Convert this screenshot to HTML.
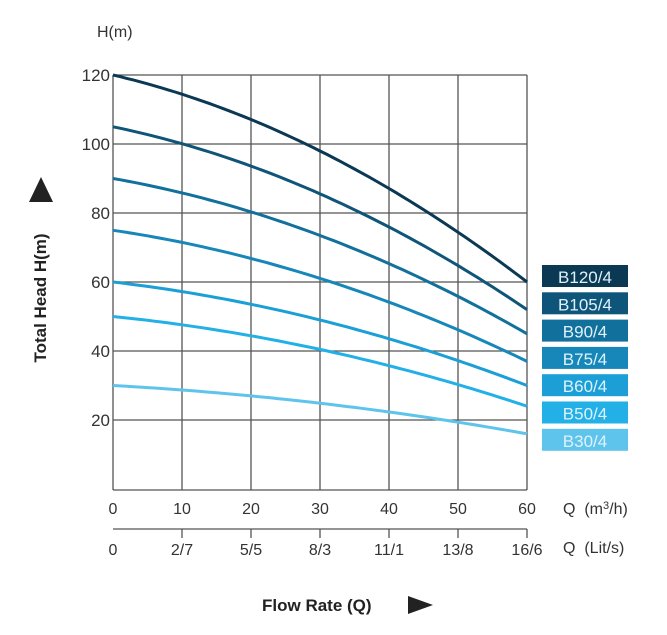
<!DOCTYPE html>
<html><head><meta charset="utf-8"><style>
body{margin:0;background:#fff;}
svg text{font-family:"Liberation Sans",Arial,sans-serif;}
</style></head><body>
<svg id="s" width="667" height="630" viewBox="0 0 667 630" xmlns="http://www.w3.org/2000/svg">
<rect width="667" height="630" fill="#fff"/>
<g stroke="#555" stroke-width="1.3" fill="none">
<line x1="113" y1="75" x2="113" y2="490"/>
<line x1="182" y1="75" x2="182" y2="490"/>
<line x1="251" y1="75" x2="251" y2="490"/>
<line x1="320" y1="75" x2="320" y2="490"/>
<line x1="389" y1="75" x2="389" y2="490"/>
<line x1="458" y1="75" x2="458" y2="490"/>
<line x1="527" y1="75" x2="527" y2="490"/>
<line x1="113" y1="75" x2="527" y2="75"/>
<line x1="113" y1="144" x2="527" y2="144"/>
<line x1="113" y1="213" x2="527" y2="213"/>
<line x1="113" y1="282" x2="527" y2="282"/>
<line x1="113" y1="351" x2="527" y2="351"/>
<line x1="113" y1="420" x2="527" y2="420"/>
<line x1="113" y1="490" x2="527" y2="490"/>
<line x1="113" y1="529" x2="527" y2="529"/>
<line x1="182" y1="529" x2="182" y2="538"/>
<line x1="251" y1="529" x2="251" y2="538"/>
<line x1="320" y1="529" x2="320" y2="538"/>
<line x1="389" y1="529" x2="389" y2="538"/>
<line x1="458" y1="529" x2="458" y2="538"/>
<line x1="527" y1="529" x2="527" y2="538"/>
</g>
<g id="curves" fill="none" stroke-width="3"></g>
<g font-size="17" fill="#333" text-anchor="end">
<text x="110" y="81">120</text><text x="110" y="150">100</text><text x="110" y="219">80</text>
<text x="110" y="288">60</text><text x="110" y="357">40</text><text x="110" y="426">20</text>
</g>
<text x="97" y="37" font-size="16" fill="#333">H(m)</text>
<g font-size="16" fill="#333" text-anchor="middle">
<text x="113" y="514">0</text><text x="182" y="514">10</text><text x="251" y="514">20</text><text x="320" y="514">30</text><text x="389" y="514">40</text><text x="458" y="514">50</text><text x="527" y="514">60</text>
<text x="113" y="555">0</text><text x="182" y="555">2/7</text><text x="251" y="555">5/5</text><text x="320" y="555">8/3</text><text x="389" y="555">11/1</text><text x="458" y="555">13/8</text><text x="527" y="555">16/6</text>
</g>
<text x="563" y="514" font-size="16" fill="#333">Q&#160; (m<tspan font-size="11" dy="-5">3</tspan><tspan dy="5">/h)</tspan></text>
<text x="563" y="553" font-size="16" fill="#333">Q&#160; (Lit/s)</text>
<text x="262" y="611" font-size="17" font-weight="bold" fill="#222">Flow Rate (Q)</text>
<polygon points="408,596 433,605 408,614" fill="#222"/>
<polygon points="41,177 29,202 53,202" fill="#222"/>
<text transform="translate(46,298) rotate(-90)" font-size="17" font-weight="bold" fill="#222" text-anchor="middle">Total Head H(m)</text>
<g id="leg" font-size="17" text-anchor="middle" fill="#dff2fb"></g>
</svg>
<script>
var data=[[120,60,"#0b3954","B120/4"],[105,52,"#0e5579","B105/4"],[90,45,"#12709c","B90/4"],[75,37,"#1787b9","B75/4"],[60,30,"#1b9fd6","B60/4"],[50,24,"#22b0e6","B50/4"],[30,16,"#5ec4ec","B30/4"]];
var ns="http://www.w3.org/2000/svg",c=document.getElementById("curves"),l=document.getElementById("leg");
data.forEach(function(d,i){
 var D=d[0]-d[1],b=(D-2*0.367*D)/1800,a=(0.367*D-900*b)/30,p="";
 for(var q=0;q<=60;q+=1){var h=d[0]-a*q-b*q*q;p+=(q?"L":"M")+(113+q*6.9).toFixed(1)+","+(489-h*3.45).toFixed(1);}
 var e=document.createElementNS(ns,"path");e.setAttribute("d",p);e.setAttribute("stroke",d[2]);c.appendChild(e);
 var y=265+i*27.3,r=document.createElementNS(ns,"rect");
 r.setAttribute("x",542);r.setAttribute("y",y);r.setAttribute("width",86);r.setAttribute("height",22);r.setAttribute("fill",d[2]);l.appendChild(r);
 var t=document.createElementNS(ns,"text");t.setAttribute("x",585);t.setAttribute("y",y+18);t.textContent=d[3];l.appendChild(t);
});
</script>
</body></html>
